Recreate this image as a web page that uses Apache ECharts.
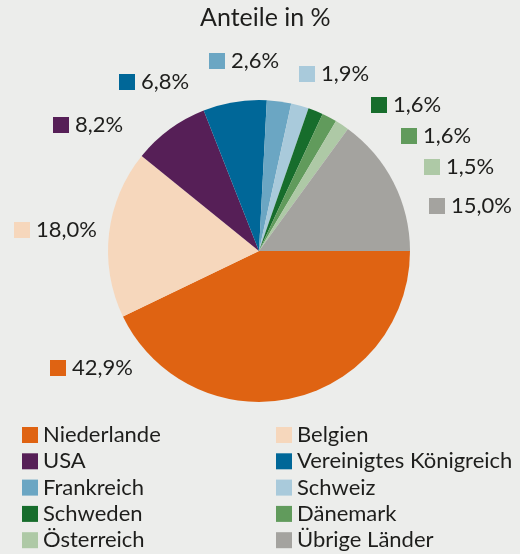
<!DOCTYPE html>
<html>
<head>
<meta charset="utf-8">
<script src="https://cdn.jsdelivr.net/npm/echarts@6/dist/echarts.min.js"></script>
<style>
  html, body { margin: 0; padding: 0; background: #ecedeb; }
  #chart { width: 520px; height: 554px; }
</style>
</head>
<body>
<div id="chart"></div>
<script>
const COUNTRIES = ['Niederlande', 'Belgien', 'USA', 'Vereinigtes Königreich', 'Frankreich', 'Schweiz', 'Schweden', 'Dänemark', 'Österreich', 'Übrige Länder']
const SHARES = [42.9, 18.0, 8.2, 6.8, 2.6, 1.9, 1.6, 1.6, 1.5, 15.0]
const COLORS = ['#df6312', '#f6d7bc', '#561f57', '#006798', '#6ba6c3', '#a9cadb', '#176d2c', '#619b5c', '#aec9a6', '#a4a39f']

// label anchors (left edge of the square, vertical middle), set by hand like in the print
const LABEL_POS = [[50, 368], [14, 230], [53, 125], [119, 82], [209, 61], [299, 74], [371, 105], [401, 136], [424, 167], [429, 206]]

const FONT = 'Lato, "Noto Sans", sans-serif'
const TEXT = '#1e1e1c'

const chart = echarts.init(document.getElementById('chart'))

const rich = { t: { fontSize: 22, fontFamily: FONT, color: TEXT, padding: [0, 0, 0, 6] } }
COLORS.forEach((c, i) => {
  rich['s' + i] = { width: 16, height: 16, backgroundColor: c }
})

const fmt = (v) => v.toFixed(1).replace('.', ',') + '%'

chart.setOption({
  animation: false,
  backgroundColor: '#ecedeb',
  title: {
    text: 'Anteile in %',
    left: 200,
    top: 5,
    padding: 0,
    textStyle: { fontFamily: FONT, fontWeight: 'normal', fontSize: 25, color: TEXT }
  },
  legend: [0, 1].map((col) => ({
    orient: 'vertical',
    left: col === 0 ? 22 : 276,
    top: 424,
    height: 200,
    padding: 0,
    itemWidth: 16,
    itemHeight: 16,
    itemGap: 4.3,
    icon: 'rect',
    selectedMode: false,
    data: COUNTRIES.filter((_, i) => i % 2 === col),
    textStyle: { fontFamily: FONT, fontSize: 22, color: TEXT }
  })),
  series: [{
    type: 'pie',
    center: [259, 251],
    radius: 151,
    startAngle: 0,
    clockwise: true,
    avoidLabelOverlap: false,
    data: COUNTRIES.map((name, i) => ({
      name,
      value: SHARES[i],
      itemStyle: { color: COLORS[i] }
    })),
    label: {
      show: true,
      position: 'outside',
      formatter: (p) => `{s${p.dataIndex}|}{t|${fmt(p.value)}}`,
      rich
    },
    labelLine: { show: false },
    labelLayout: (p) => ({
      x: LABEL_POS[p.dataIndex][0],
      y: LABEL_POS[p.dataIndex][1],
      align: 'left',
      verticalAlign: 'middle'
    }),
    emphasis: { disabled: true }
  }]
})
</script>
</body>
</html>
